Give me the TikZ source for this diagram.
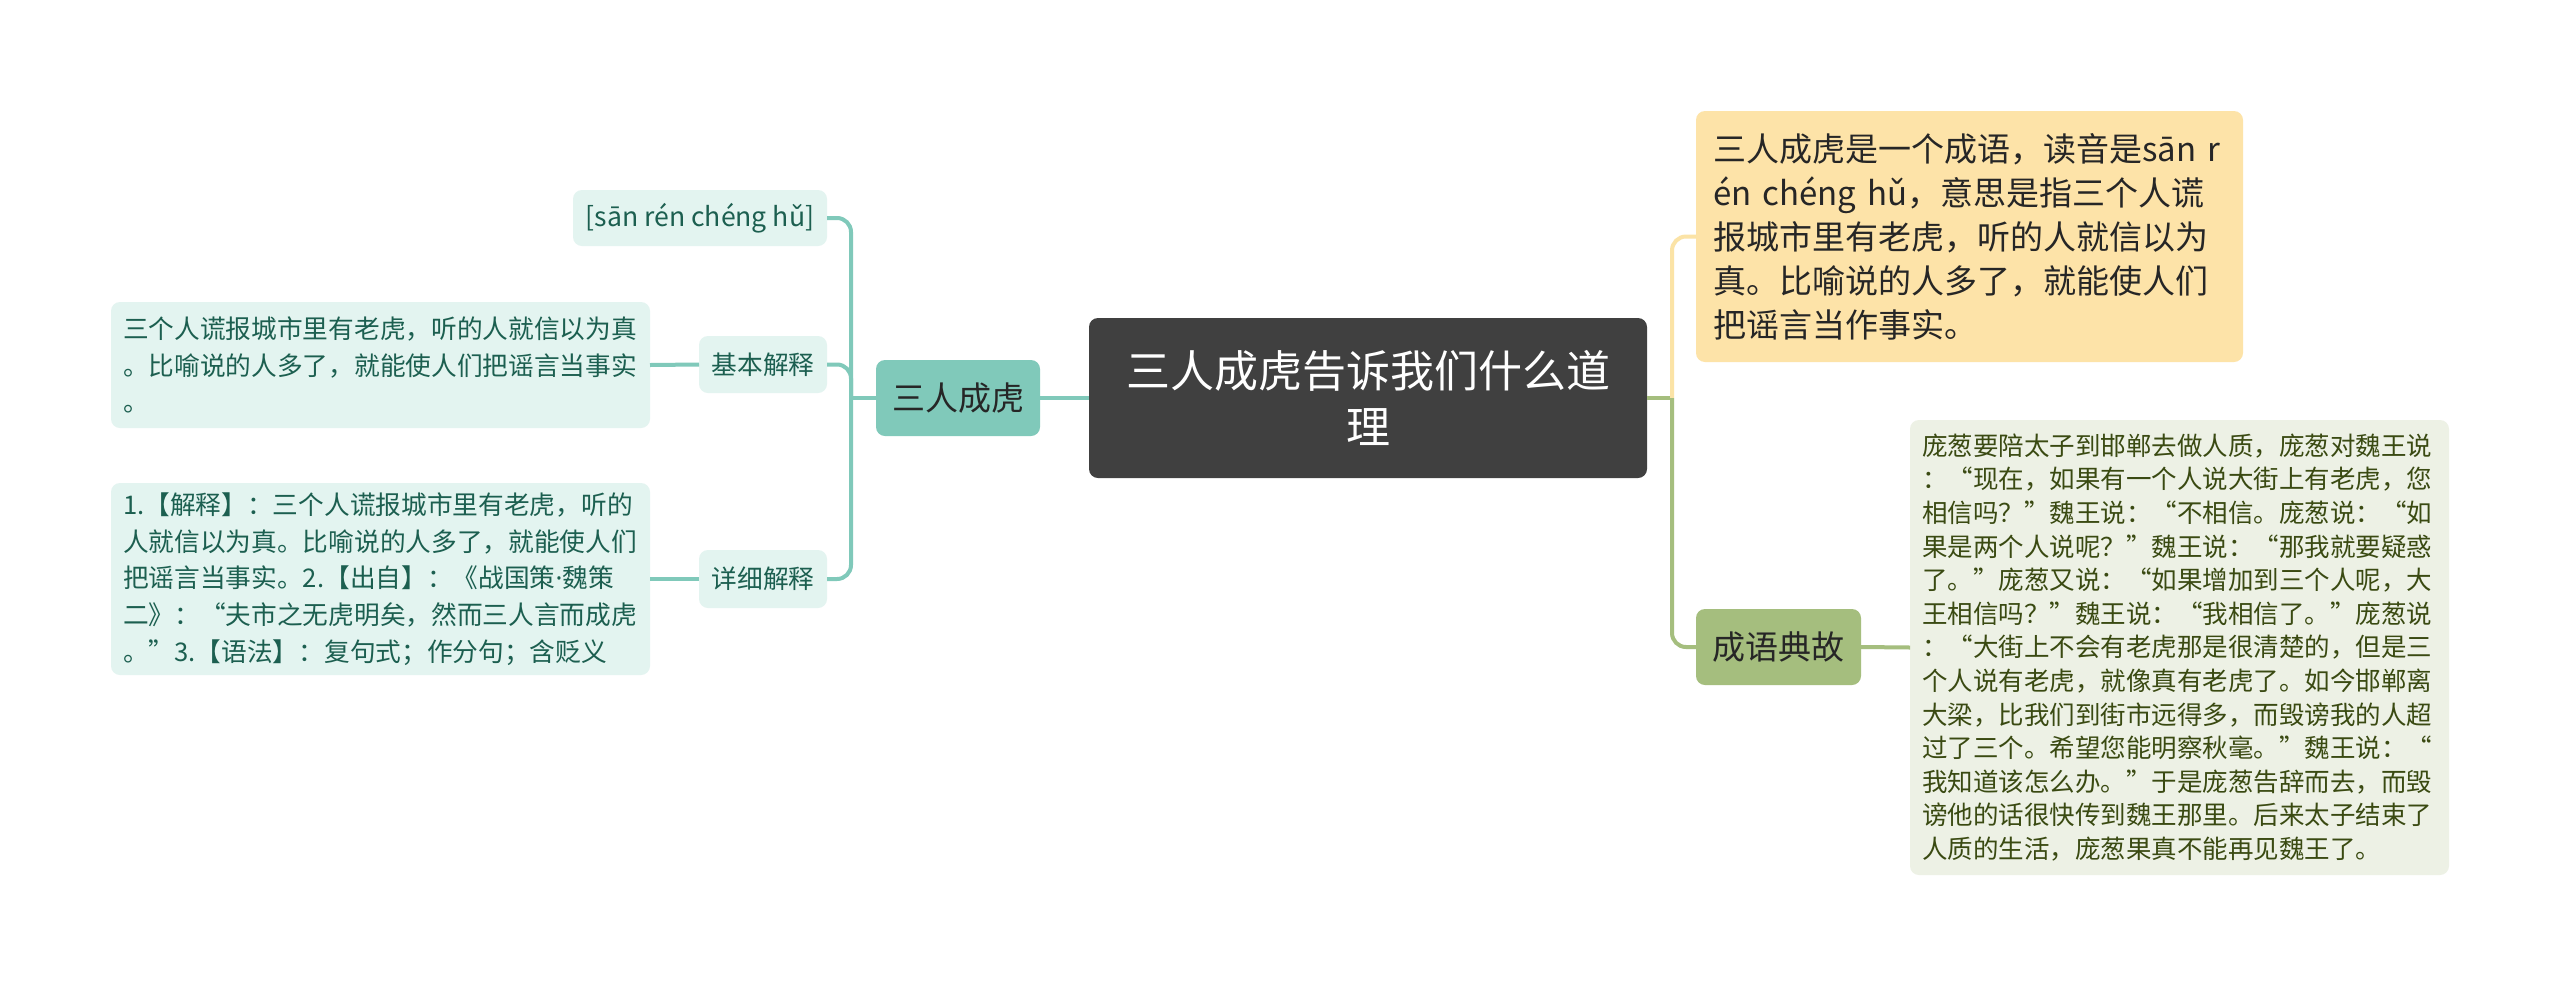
\documentclass[tikz,border=0pt]{standalone}
\usepackage{fontspec}
\setmainfont{Noto Sans CJK SC}
\newfontfamily\latinfam{Noto Sans}
\definecolor{rootfill}{HTML}{404040}
\definecolor{tealmain}{HTML}{80C9BA}
\definecolor{tealpale}{HTML}{E3F4F0}
\definecolor{tealtext}{HTML}{1C5F50}
\definecolor{yelfill}{HTML}{FDE3A8}
\definecolor{yelline}{HTML}{FBE3A6}
\definecolor{grnmain}{HTML}{A5BE7E}
\definecolor{grnpale}{HTML}{EDF1E5}
\definecolor{grntext}{HTML}{3A4A12}
\definecolor{darktext}{HTML}{262626}
\begin{document}
\begin{tikzpicture}[x=1pt,y=-1pt,
  every node/.style={inner sep=0pt, outer sep=0pt},
  rootbox/.style={fill=rootfill, rounded corners=9pt, text=white, align=center,
    minimum width=558pt, minimum height=160pt, font=\fontsize{44}{56}\selectfont},
  mainbox/.style={rounded corners=9pt, text=darktext, minimum height=76pt,
    font=\fontsize{33}{40}\selectfont},
  subbox/.style={fill=tealpale, rounded corners=9pt, text=tealtext,
    font=\fontsize{25.7}{32}\selectfont},
  leafbox/.style={rounded corners=9pt, align=left, inner xsep=12pt},
  tealline/.style={draw=tealmain, line width=4pt},
  grnline/.style={draw=grnmain, line width=4pt},
  yelline/.style={draw=yelline, line width=4pt}
]
\fill[white] (0,0) rectangle (2560,986);
\useasboundingbox (0,0) rectangle (2560,986);

% central
\node[rootbox] (root) at (1368,398) {三人成虎告诉我们什么道\\理};

% left branch
\node[mainbox, fill=tealmain, minimum width=164pt] (sanren) at (958,398) {三人成虎};
\node[subbox, minimum width=254pt, minimum height=56pt, font=\fontsize{26.6}{32}\selectfont] (pinyin) at (700,218) {[sān rén chéng hǔ]};
\node[subbox, minimum width=128pt, minimum height=57pt] (jiben) at (763,364.5) {基本解释};
\node[subbox, minimum width=128pt, minimum height=58pt] (xiangxi) at (763,579) {详细解释};

\node[leafbox, fill=tealpale, text=tealtext, text width=515pt, minimum height=126pt,
  font=\fontsize{25.7}{36.5}\selectfont] (box1) at (380.5,365)
  {三个人谎报城市里有老虎，听的人就信以为真\\。比喻说的人多了，就能使人们把谣言当事实\\。};
\node[leafbox, fill=tealpale, text=tealtext, text width=515pt, minimum height=192pt,
  font=\fontsize{25.7}{36.8}\selectfont] (box2) at (380.5,579)
  {1.【解释】：三个人谎报城市里有老虎，听的\\人就信以为真。比喻说的人多了，就能使人们\\把谣言当事实。2.【出自】：《战国策{\latinfam ·}魏策\\二》：“夫市之无虎明矣，然而三人言而成虎\\。”3.【语法】：复句式；作分句；含贬义};

\coordinate (lj) at (851,398);
\draw[tealline] (root.west) -- (sanren.east);
\draw[tealline] (sanren.west) -- (lj);
\draw[tealline, rounded corners=14pt] (lj) |- (pinyin.east);
\draw[tealline, rounded corners=14pt] (lj) |- (jiben.east);
\draw[tealline, rounded corners=14pt] (lj) |- (xiangxi.east);
\draw[tealline] (jiben.west) -- (box1.east);
\draw[tealline] (xiangxi.west) -- (box2.east);

% right branch
\node[leafbox, fill=yelfill, text=darktext, inner xsep=17pt, text width=513pt, minimum height=251pt,
  font=\fontsize{33}{44}\selectfont] (yel) at (1969.5,236.5)
  {三人成虎是一个成语，读音是sān r\\én chéng hǔ，意思是指三个人谎\\报城市里有老虎，听的人就信以为\\真。比喻说的人多了，就能使人们\\把谣言当作事实。};
\node[mainbox, fill=grnmain, minimum width=165pt] (dian) at (1778.5,647) {成语典故};
\node[leafbox, fill=grnpale, text=grntext, text width=515pt, minimum height=455pt,
  font=\fontsize{25.5}{33.6}\selectfont] (story) at (2179.5,647.5)
  {庞葱要陪太子到邯郸去做人质，庞葱对魏王说\\：“现在，如果有一个人说大街上有老虎，您\\相信吗？”魏王说：“不相信。庞葱说：“如\\果是两个人说呢？”魏王说：“那我就要疑惑\\了。”庞葱又说：“如果增加到三个人呢，大\\王相信吗？”魏王说：“我相信了。”庞葱说\\：“大街上不会有老虎那是很清楚的，但是三\\个人说有老虎，就像真有老虎了。如今邯郸离\\大梁，比我们到街市远得多，而毁谤我的人超\\过了三个。希望您能明察秋毫。”魏王说：“\\我知道该怎么办。”于是庞葱告辞而去，而毁\\谤他的话很快传到魏王那里。后来太子结束了\\人质的生活，庞葱果真不能再见魏王了。};

\coordinate (rj) at (1672,398);
\draw[grnline] (root.east) -- (rj);
\draw[yelline, rounded corners=14pt] (rj) |- (yel.west);
\draw[grnline, rounded corners=14pt] (rj) |- (dian.west);
\draw[grnline] (dian.east) -- (story.west);
\end{tikzpicture}
\end{document}
